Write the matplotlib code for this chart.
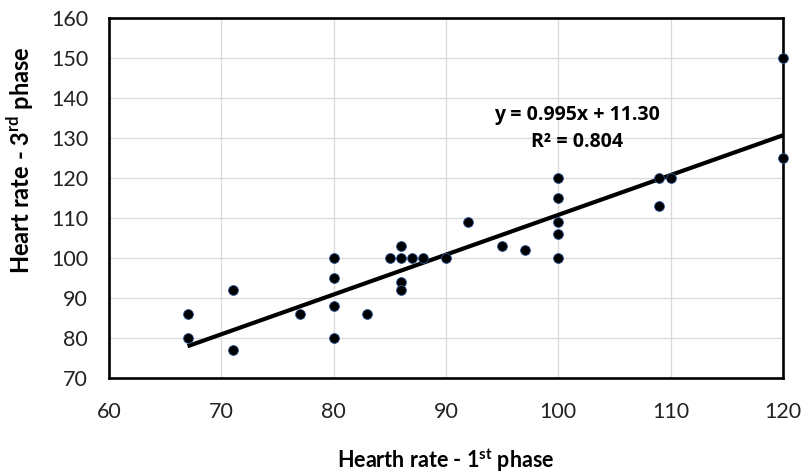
import numpy as np
import matplotlib
matplotlib.use('Agg')
import matplotlib.pyplot as plt

plt.rcParams['font.family'] = ['Lato', 'DejaVu Sans']
plt.rcParams['mathtext.fontset'] = 'custom'
plt.rcParams['mathtext.bf'] = 'Lato:bold'
plt.rcParams['mathtext.rm'] = 'Lato'

# heart rate, 1st phase vs 3rd phase
hr_phase1 = [67, 67, 71, 71, 77, 80, 80, 80, 80, 83, 85, 86, 86, 86, 86,
             87, 88, 90, 92, 95, 97, 100, 100, 100, 100, 100, 109, 109,
             110, 120, 120]
hr_phase3 = [86, 80, 92, 77, 86, 100, 95, 88, 80, 86, 100, 103, 100, 94, 92,
             100, 100, 100, 109, 103, 102, 120, 115, 109, 106, 100, 120, 113,
             120, 150, 125]

slope, intercept, r2 = 0.995, 11.30, 0.804

x_ticks = [60, 70, 80, 90, 100, 110, 120]
y_ticks = [70, 80, 90, 100, 110, 120, 130, 140, 150, 160]

fig = plt.figure(figsize=(8.01, 4.75), dpi=100)
ax = fig.add_axes([0.136, 0.204, 0.8415, 0.758])

ax.grid(True, color='#d9d9d9', linewidth=0.9, zorder=0)
ax.set_axisbelow(True)

ax.scatter(hr_phase1, hr_phase3, s=50, color='black', edgecolors='#2f5597',
           linewidths=0.6, zorder=3, clip_on=False)

xs = np.array([min(hr_phase1), max(hr_phase1)])
ax.plot(xs, slope * xs + intercept, color='black', linewidth=3.0, zorder=2,
        solid_capstyle='butt')

ax.text(0.694, 0.693, f'y = {slope:.3f}x + {intercept:.2f}\nR² = {r2:.3f}',
        transform=ax.transAxes, ha='center', va='center', fontsize=14,
        fontweight='bold', family=['Open Sans', 'DejaVu Sans'],
        linespacing=1.45)

ax.set_xlim(60, 120)
ax.set_ylim(70, 160)
ax.set_xticks(x_ticks)
ax.set_yticks(y_ticks)
ax.tick_params(length=0, labelsize=15.5, colors='#222222')
ax.tick_params(axis='y', pad=15)
ax.tick_params(axis='x', pad=17)

for s in ax.spines.values():
    s.set_linewidth(1.9)
    s.set_color('black')

ax.set_xlabel(r'Hearth rate - 1$^{\mathbf{st}}$ phase', fontsize=15.5,
              fontweight='bold')
ax.set_ylabel(r'Heart rate - 3$^{\mathbf{rd}}$ phase', fontsize=17,
              fontweight='bold')
ax.xaxis.set_label_coords(0.5, -0.19)
ax.yaxis.set_label_coords(-0.108, 0.605)

fig.savefig('out.png', dpi=100)
